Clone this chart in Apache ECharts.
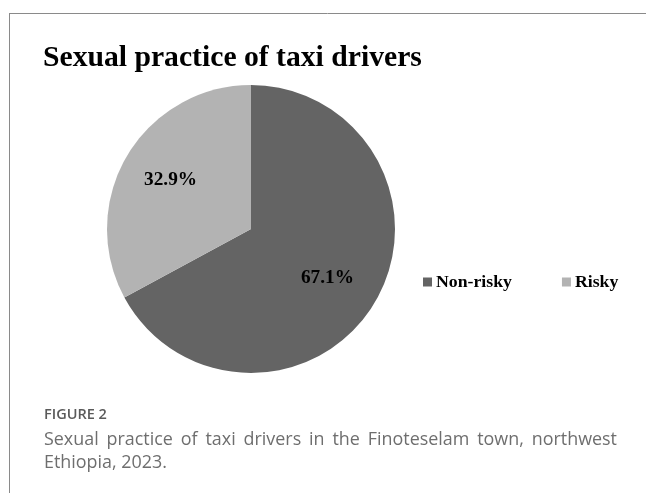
<!DOCTYPE html>
<html><head><meta charset="utf-8">
<script src="https://cdn.jsdelivr.net/npm/echarts@6/dist/echarts.min.js"></script>
<style>html,body{margin:0;padding:0;background:#fff}#c{width:646px;height:493px}</style>
</head><body><div id="c"></div>
<script>
const titleText = 'Sexual practice of taxi drivers';
const categories = ['Non-risky', 'Risky'];
const values = [67.1, 32.9];
const colors = ['#646464', '#b3b3b3'];
const figLabel = 'FIGURE 2';
const captionLines = ['Sexual practice of taxi drivers in the Finoteselam town, northwest', 'Ethiopia, 2023.'];

const ctx = document.createElement('canvas').getContext('2d');
function fitSize(text, weight, family, target) {
  ctx.font = weight + ' 100px ' + family;
  return +(100 * target / ctx.measureText(text).width).toFixed(2);
}
const serif = '"Liberation Serif"';
const sans = '"Open Sans"';
const titleSize = fitSize(titleText, 'bold', serif, 379);
const labelSize = fitSize('67.1%', 'bold', serif, 53);
const legendSize = fitSize('Non-risky', 'bold', serif, 76);
const figSize = fitSize(figLabel, '600', sans, 63);
const capSize = fitSize(captionLines[1], 'normal', sans, 123);
const capFont = capSize + 'px ' + sans;
const capLeft = 44, capRight = 617, capColor = '#6e6e6e';

ctx.font = capFont;
const words = captionLines[0].split(' ');
const wordW = words.map(w => ctx.measureText(w).width);
const totalW = wordW.reduce((a, b) => a + b, 0);
const gap = (capRight - capLeft - totalW) / (words.length - 1);
const capGraphics = [];
let x = capLeft;
words.forEach((w, i) => {
  capGraphics.push({type: 'text', x: x, y: 440, style: {text: w, font: capFont, fill: capColor, verticalAlign: 'middle'}});
  x += wordW[i] + gap;
});
capGraphics.push({type: 'text', x: capLeft, y: 463, style: {text: captionLines[1], font: capFont, fill: capColor, verticalAlign: 'middle'}});

const chart = echarts.init(document.getElementById('c'), null, {renderer: 'canvas'});
const labelOffsets = [[12, 11], [-16, -11]];
chart.setOption({
  animation: false,
  legend: {
    data: categories, left: 423, top: 273, padding: 0, itemWidth: 9, itemHeight: 9, itemGap: 50,
    icon: 'rect',
    textStyle: {fontFamily: 'Liberation Serif', fontWeight: 'bold', fontSize: legendSize, color: '#000', padding: [0,0,0,-1]}
  },
  graphic: [
    {type: 'line', shape: {x1: 9, y1: 13.5, x2: 646, y2: 13.5}, style: {stroke: '#8a8a8a', lineWidth: 1}},
    {type: 'line', shape: {x1: 9.5, y1: 13, x2: 9.5, y2: 493}, style: {stroke: '#8a8a8a', lineWidth: 1}},
    {type: 'text', x: 43, y: 58, style: {text: titleText, font: 'bold ' + titleSize + 'px ' + serif, fill: '#000', verticalAlign: 'middle'}},
    {type: 'text', x: capLeft, y: 415, style: {text: figLabel, font: '600 ' + figSize + 'px ' + sans, fill: '#5a5a5a', verticalAlign: 'middle'}}
  ].concat(capGraphics),
  series: [{
    type: 'pie', center: [251, 229], radius: 144, startAngle: 90, clockwise: true,
    color: colors,
    data: categories.map((c, i) => ({name: c, value: values[i], label: {offset: labelOffsets[i]}})),
    label: {
      position: 'inside', formatter: p => p.value.toFixed(1) + '%',
      fontFamily: 'Liberation Serif', fontWeight: 'bold', fontSize: labelSize, color: '#000'
    },
    labelLine: {show: false},
    itemStyle: {borderWidth: 0},
    emphasis: {disabled: true}
  }]
});
</script></body></html>
